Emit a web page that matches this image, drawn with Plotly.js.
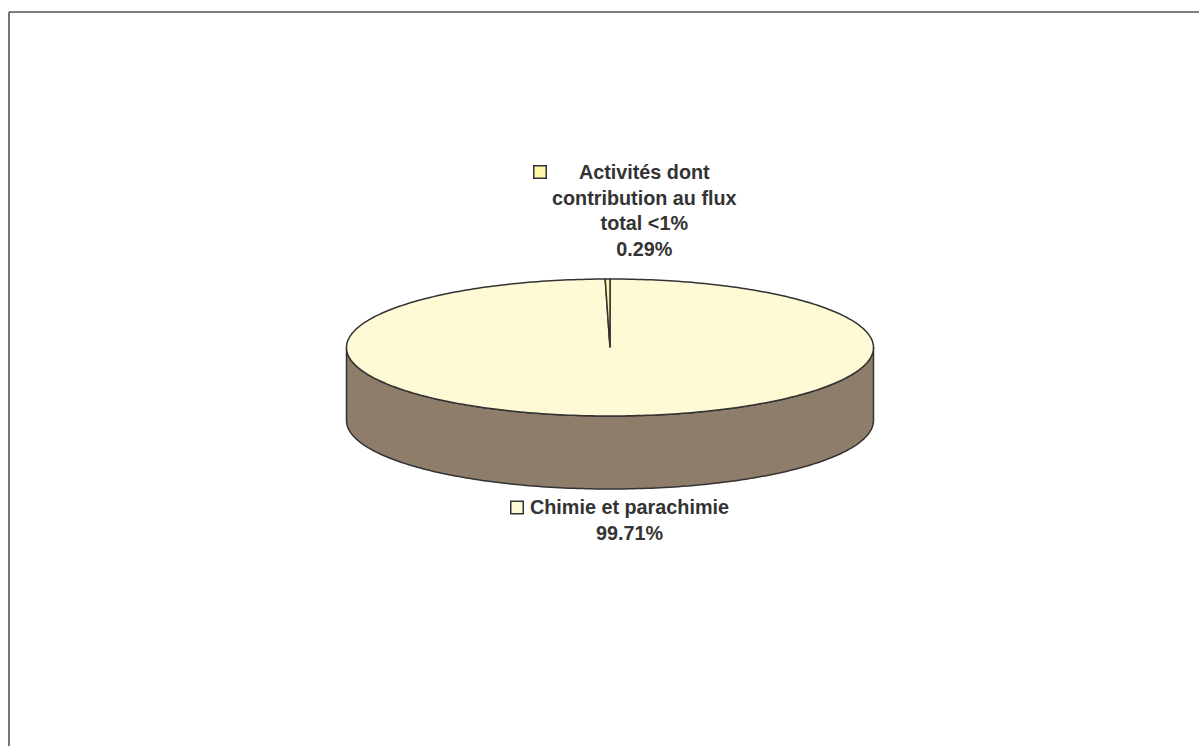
<!DOCTYPE html>
<html>
<head>
<meta charset="utf-8">
<script src="https://cdn.plot.ly/plotly-3.0.1.min.js"></script>
<style>html,body{margin:0;padding:0;background:#fff}#chart{width:1199px;height:746px}</style>
</head>
<body>
<div id="chart"></div>
<script>
const categories = ["Chimie et parachimie", "Activités dont<br>contribution au flux<br>total <1%"];
const shares = [99.71, 0.29];
const shareLabels = ["99.71%", "0.29%"];
const sliceColors = ["#FFFAD6", "#FFF6A6"];
const sideColor = "#8E7D6B";
const edgeColor = "#333333";
const cx = 610, cy = 347.5, rx = 263.5, ry = 68.5, depth = 73;

const total = shares.reduce((a, b) => a + b, 0);
function pt(deg, drop) {
  const a = deg * Math.PI / 180;
  return [cx + rx * Math.sin(a), cy - ry * Math.cos(a) + (drop || 0)];
}
function arc(from, to, drop) {
  const out = [], n = Math.max(2, Math.ceil(Math.abs(to - from)));
  for (let i = 0; i <= n; i++) out.push(pt(from + (to - from) * i / n, drop));
  return out;
}
function polyTrace(points, fill, name) {
  return {
    type: "scatter", mode: "lines", name: name, hoverinfo: "name",
    x: points.map(p => p[0]), y: points.map(p => p[1]),
    fill: "toself", fillcolor: fill,
    line: { color: edgeColor, width: 1.5, simplify: false }
  };
}
const traces = [];
// cylinder wall: visible front half of the rim
traces.push(polyTrace(arc(90, 270, 0).concat(arc(270, 90, depth)).concat([pt(90, 0)]), sideColor, "Côté"));
// slices, clockwise from 12 o'clock
let start = 0;
shares.forEach((v, i) => {
  const sweep = v / total * 360;
  const pts = [[cx, cy]].concat(arc(start, start + sweep, 0)).concat([[cx, cy]]);
  traces.push(polyTrace(pts, sliceColors[i], categories[i].replace(/<br>/g, " ")));
  start += sweep;
});
// legend keys beside the data labels
traces.push({
  type: "scatter", mode: "markers", hoverinfo: "skip",
  x: [517, 540], y: [507.5, 172],
  marker: { symbol: "square", size: 12.5, color: sliceColors, line: { color: edgeColor, width: 1.5 } }
});

const font = { family: "Liberation Sans, Arial, sans-serif", size: 19.8, color: edgeColor };
const layout = {
  width: 1199, height: 746, showlegend: false,
  margin: { l: 0, r: 0, t: 0, b: 0 },
  paper_bgcolor: "#fff", plot_bgcolor: "#fff",
  xaxis: { range: [0, 1199], visible: false, fixedrange: true },
  yaxis: { range: [746, 0], visible: false, fixedrange: true },
  annotations: [
    { x: 629.5, y: 519.5, text: "<b>" + categories[0] + "<br>" + shareLabels[0] + "</b>", showarrow: false, font: font, xanchor: "center", yanchor: "middle", align: "center" },
    { x: 644.5, y: 210, text: "<b>" + categories[1] + "<br>" + shareLabels[1] + "</b>", showarrow: false, font: font, xanchor: "center", yanchor: "middle", align: "center" }
  ],
  shapes: [
    { type: "line", xref: "x", yref: "y", x0: 9, y0: 12, x1: 1199, y1: 12, line: { color: "#555555", width: 1.6 } },
    { type: "line", xref: "x", yref: "y", x0: 9, y0: 12, x1: 9, y1: 746, line: { color: "#555555", width: 1.6 } }
  ]
};
Plotly.newPlot("chart", traces, layout, { displayModeBar: false });
</script>
</body>
</html>
